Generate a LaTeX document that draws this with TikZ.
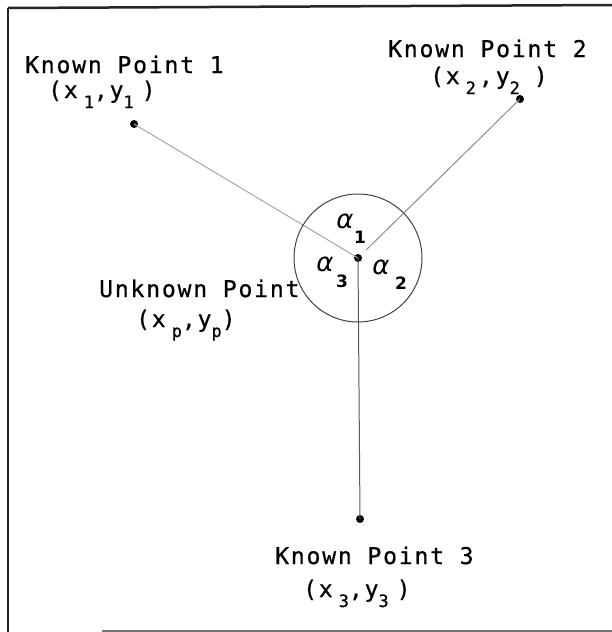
\documentclass[tikz,border=0pt]{standalone}
\usepackage{fontspec}
\newfontfamily\plotfont[LetterSpace=8,FakeBold=0.7]{DejaVu Sans Mono}
\newfontfamily\greekfont{DejaVu Sans}
\newcommand{\lowsub}[1]{\raisebox{-10pt}{\fontsize{17}{17}\selectfont #1}}
\begin{document}
\begin{tikzpicture}[x=1pt,y=-1pt,
  lbl/.style={font=\plotfont\fontsize{23}{23}\selectfont, inner sep=0pt, anchor=base west},
  dot/.style={circle, fill=black, inner sep=0pt, minimum size=8pt},
  ang/.style={font=\greekfont\itshape\fontsize{26}{26}\selectfont, inner sep=0pt},
  angsub/.style={font=\greekfont\bfseries\fontsize{17}{17}\selectfont, inner sep=0pt},
  ray/.style={black!55, line width=1pt},
  frame/.style={black!85, line width=2pt}]
\useasboundingbox (0,0) rectangle (612,632);
% frame
\coordinate (ftl) at (8,8);
\coordinate (ftr) at (612,5);
\coordinate (fbl) at (8,632);
\coordinate (bbl) at (102,631);
\coordinate (bbr) at (612,631);
\draw[frame, line width=2.5pt] (ftl) -- (ftr);
\draw[frame] (ftl) -- (fbl);
\draw[black!55, line width=1.5pt] (bbl) -- (bbr);
% points
\node[dot] (p1) at (134,124) {};
\node[dot] (p2) at (520,99) {};
\node[dot] (p) at (358,258) {};
\node[dot] (p3) at (360,519) {};
% rays
\draw[ray, black!35] (p1.center) -- (p.center);
\draw[ray, black!45, shorten >=12pt] (p2.center) -- (p.center);
\draw[ray, black!65] (p.center) -- (p3.center);
% circle
\draw[black!75, line width=1pt] (p.center) circle (64);
% labels
\node[lbl] (k1) at (25,73) {Known Point 1};
\node[lbl] (c1) at (48,98) {(x\hspace{6pt}\lowsub{1},y\lowsub{1}\hspace{8pt})};
\node[lbl] (k2) at (388,57) {Known Point 2};
\node[lbl] (c2) at (430,84) {(x\hspace{6pt}\lowsub{2}\hspace{3pt},\hspace{3pt}y\lowsub{2}\hspace{14pt})};
\node[lbl] (ku) at (99,297) {Unknown Point};
\node[lbl] (cu) at (136,327) {(x\hspace{6pt}\lowsub{p},y\lowsub{p})};
\node[lbl] (k3) at (275,564) {Known Point 3};
\node[lbl] (c3) at (303,597) {(x\hspace{6pt}\lowsub{3},y\lowsub{3}\hspace{8pt})};
% angles
\node[ang] (a1) at (345,221) {α};
\node[angsub] (s1) at (360,237) {1};
\node[ang] (a3) at (325,264) {α};
\node[angsub] (s3) at (342,281) {3};
\node[ang] (a2) at (381,267) {α};
\node[angsub] (s2) at (401,283) {2};
\end{tikzpicture}
\end{document}
